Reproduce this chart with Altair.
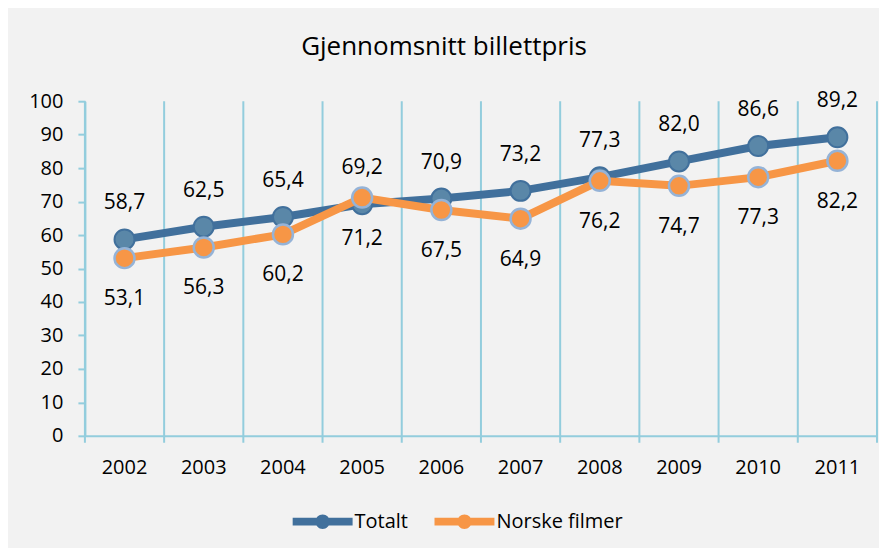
import altair as alt
import pandas as pd

years = ["2002", "2003", "2004", "2005", "2006", "2007", "2008", "2009", "2010", "2011"]
totalt = [58.7, 62.5, 65.4, 69.2, 70.9, 73.2, 77.3, 82.0, 86.6, 89.2]
norske = [53.1, 56.3, 60.2, 71.2, 67.5, 64.9, 76.2, 74.7, 77.3, 82.2]
series = ["Totalt", "Norske filmer"]

FONT = "Open Sans"
GRID = "#93CDDD"
BLUE_LINE = "#41709C"
BLUE_FILL = "#5A87A8"
ORANGE = "#F79646"
ORANGE_EDGE = "#95B3D7"


def fmt(v):
    return f"{v:.1f}".replace(".", ",")


rows = []
for y, a, b in zip(years, totalt, norske):
    rows.append({"year": y, "serie": series[0], "value": a, "label": fmt(a)})
    rows.append({"year": y, "serie": series[1], "value": b, "label": fmt(b)})
df = pd.DataFrame(rows)
df_t = df[df.serie == series[0]]
df_n = df[df.serie == series[1]]
df_years = pd.DataFrame({"year": years})

xscale = alt.Scale(type="band", paddingInner=0, paddingOuter=0, domain=years)
yscale = alt.Scale(domain=[0, 100], nice=False)

x_axis = alt.Axis(
    title=None, labelFont=FONT, labelFontSize=20, labelColor="#000000",
    labelAngle=0, ticks=False, grid=False, domainColor=GRID, domainWidth=2,
    labelPadding=22,
)
y_axis = alt.Axis(
    title=None, values=list(range(0, 101, 10)), labelFont=FONT, labelFontSize=20,
    labelColor="#000000", grid=False, domainColor=GRID, domainWidth=2,
    tickColor=GRID, tickWidth=2, tickSize=7, labelPadding=15,
)

X = lambda: alt.X("year:O", scale=xscale, axis=x_axis, bandPosition=0.5, sort=years)
Y = lambda: alt.Y("value:Q", scale=yscale, axis=y_axis)

grid = alt.Chart(df_years).mark_rule(color=GRID, strokeWidth=2).encode(
    x=alt.X("year:O", scale=xscale, axis=x_axis, bandPosition=0, sort=years),
    y=alt.value(0), y2=alt.value(342),
)
grid_end = alt.Chart(df_years.head(1)).mark_rule(color=GRID, strokeWidth=2).encode(
    x=alt.value(793), y=alt.value(0), y2=alt.value(342),
)

legend_path = ("M-1,-0.13 L1,-0.13 L1,0.13 L-1,0.13 Z "
               "M0.24,0 A0.24,0.24 0 1 1 -0.24,0 A0.24,0.24 0 1 1 0.24,0 Z")

color = alt.Color(
    "serie:N",
    scale=alt.Scale(domain=series, range=[BLUE_LINE, ORANGE]),
    sort=series,
    legend=alt.Legend(
        title=None, orient="none", direction="horizontal",
        legendX=208, legendY=391, symbolType=legend_path, symbolSize=3600,
        symbolStrokeWidth=0, symbolOpacity=1, labelFont=FONT, labelFontSize=20,
        labelColor="#000000", labelOffset=2, columnPadding=26,
    ),
)

# invisible carrier layer that only provides the legend
legend_layer = alt.Chart(df).mark_point(filled=True, opacity=0, size=1).encode(
    x=X(), y=Y(), color=color
)

line_t = alt.Chart(df_t).mark_line(strokeWidth=8, color=BLUE_LINE).encode(x=X(), y=Y())
pts_t = alt.Chart(df_t).mark_point(
    filled=True, size=400, fill=BLUE_FILL, stroke=BLUE_LINE, strokeWidth=2, opacity=1
).encode(x=X(), y=Y())
line_n = alt.Chart(df_n).mark_line(strokeWidth=8, color=ORANGE).encode(x=X(), y=Y())
pts_n = alt.Chart(df_n).mark_point(
    filled=True, size=400, fill=ORANGE, stroke=ORANGE_EDGE, strokeWidth=2.5, opacity=1
).encode(x=X(), y=Y())

lab_t = alt.Chart(df_t).mark_text(
    font=FONT, fontSize=21, color="#000000", dy=-36, baseline="middle"
).encode(x=X(), y=Y(), text="label:N")
lab_n = alt.Chart(df_n).mark_text(
    font=FONT, fontSize=21, color="#000000", dy=41, baseline="middle"
).encode(x=X(), y=Y(), text="label:N")

chart = alt.layer(
    grid, grid_end, legend_layer, line_t, pts_t, line_n, pts_n, lab_t, lab_n
).properties(
    width=793, height=335,
    title=alt.TitleParams(
        "Gjennomsnitt billettpris", font=FONT, fontSize=26, fontWeight="normal",
        color="#000000", offset=30, dx=-37, anchor="middle",
    ),
    autosize=alt.AutoSizeParams(type="none"),
    padding={"left": 77, "top": 93, "right": 2, "bottom": 112},
    background="#F2F2F2",
).configure_view(stroke=None)

chart.save("out.html", embed_options={"renderer": "svg", "actions": False})
